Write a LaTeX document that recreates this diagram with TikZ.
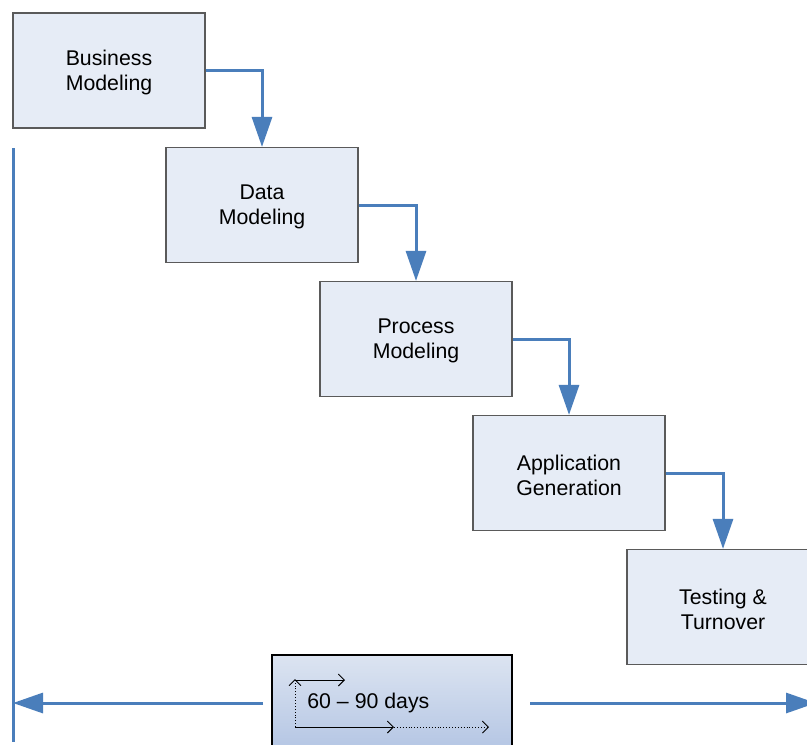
\documentclass[tikz,border=0pt]{standalone}
\usepackage{fontspec}
\setmainfont{Liberation Sans}
\usetikzlibrary{arrows.meta}
\definecolor{boxfill}{HTML}{E6ECF6}
\definecolor{boxline}{HTML}{5A5A5A}
\definecolor{flowblue}{HTML}{4A7EBB}
\definecolor{spantop}{HTML}{DCE4F1}
\definecolor{spanbot}{HTML}{B2C4E3}
\tikzset{
  phase/.style={draw=boxline, line width=0.6pt, fill=boxfill,
    minimum width=96pt, minimum height=57.5pt, inner sep=0pt,
    align=center, font=\fontsize{10.65}{12.5}\selectfont},
  phasetext/.style={align=center, font=\fontsize{10.65}{12.5}\selectfont, inner sep=0pt},
  flow/.style={draw=flowblue, line width=1.5pt,
    -{Triangle[length=15pt,width=10pt]}},
  rail/.style={draw=flowblue, line width=1.5pt},
  span/.style={draw=black, line width=0.6pt, top color=spantop, bottom color=spanbot,
    minimum width=120pt, minimum height=50pt, inner sep=0pt},
  icon/.style={line width=0.45pt, -{Straight Barb[length=3pt,width=6pt]}},
}
\begin{document}
\begin{tikzpicture}[x=0.5pt, y=-0.5pt]
\clip (0,0) rectangle (807,744);
\fill[white] (0,0) rectangle (807,744);

% phase boxes
\node[phase] (b1) at (109,70.5) {};
\node[phase] (b2) at (262,205) {};
\node[phase] (b3) at (416,339) {};
\node[phase] (b4) at (569,473) {};
\node[phase] (b5) at (723,607) {};

% phase labels, set slightly below the box centres
\node[phasetext] (t1) at ([yshift=-1pt]b1.center) {Business\\Modeling};
\node[phasetext] (t2) at ([yshift=-1pt]b2.center) {Data\\Modeling};
\node[phasetext] (t3) at ([yshift=-1pt]b3.center) {Process\\Modeling};
\node[phasetext] (t4) at ([yshift=-1pt]b4.center) {Application\\Generation};
\node[phasetext] (t5) at ([yshift=-1pt]b5.center) {Testing \&\\Turnover};

% step connectors
\draw[flow] (b1.east) -| (b2.north);
\draw[flow] (b2.east) -| (b3.north);
\draw[flow] (b3.east) -| (b4.north);
\draw[flow] (b4.east) -| (b5.north);

% time span box
\node[span] (sp) at (392,705) {};
\node[anchor=west, inner sep=0pt, font=\fontsize{10.65}{12.5}\selectfont] (days) at (307,703) {60 -- 90 days};

% small arrow icon inside the span box
\coordinate (ic0) at (295,727);
\coordinate (ic1) at (295,679);
\coordinate (ic2) at (345,680);
\coordinate (ic3) at (394,727);
\coordinate (ic4) at (489,727);
\draw[icon, densely dotted] (ic0) -- (ic1);
\draw[icon] (295,680) -- (ic2);
\draw[icon] (ic0) -- (ic3);
\draw[icon, densely dotted] (ic3) -- (ic4);

% left rail and span arrows
\coordinate (railtop) at (13,148);
\coordinate (railbot) at (13,742);
\coordinate (lstart) at (263,703);
\coordinate (lend) at (13,703);
\coordinate (rstart) at (530,703);
\coordinate (rend) at (816,703);
\draw[rail] (railtop) -- (railbot);
\draw[flow] (lstart) -- (lend);
\draw[flow] (rstart) -- (rend);
\end{tikzpicture}
\end{document}
